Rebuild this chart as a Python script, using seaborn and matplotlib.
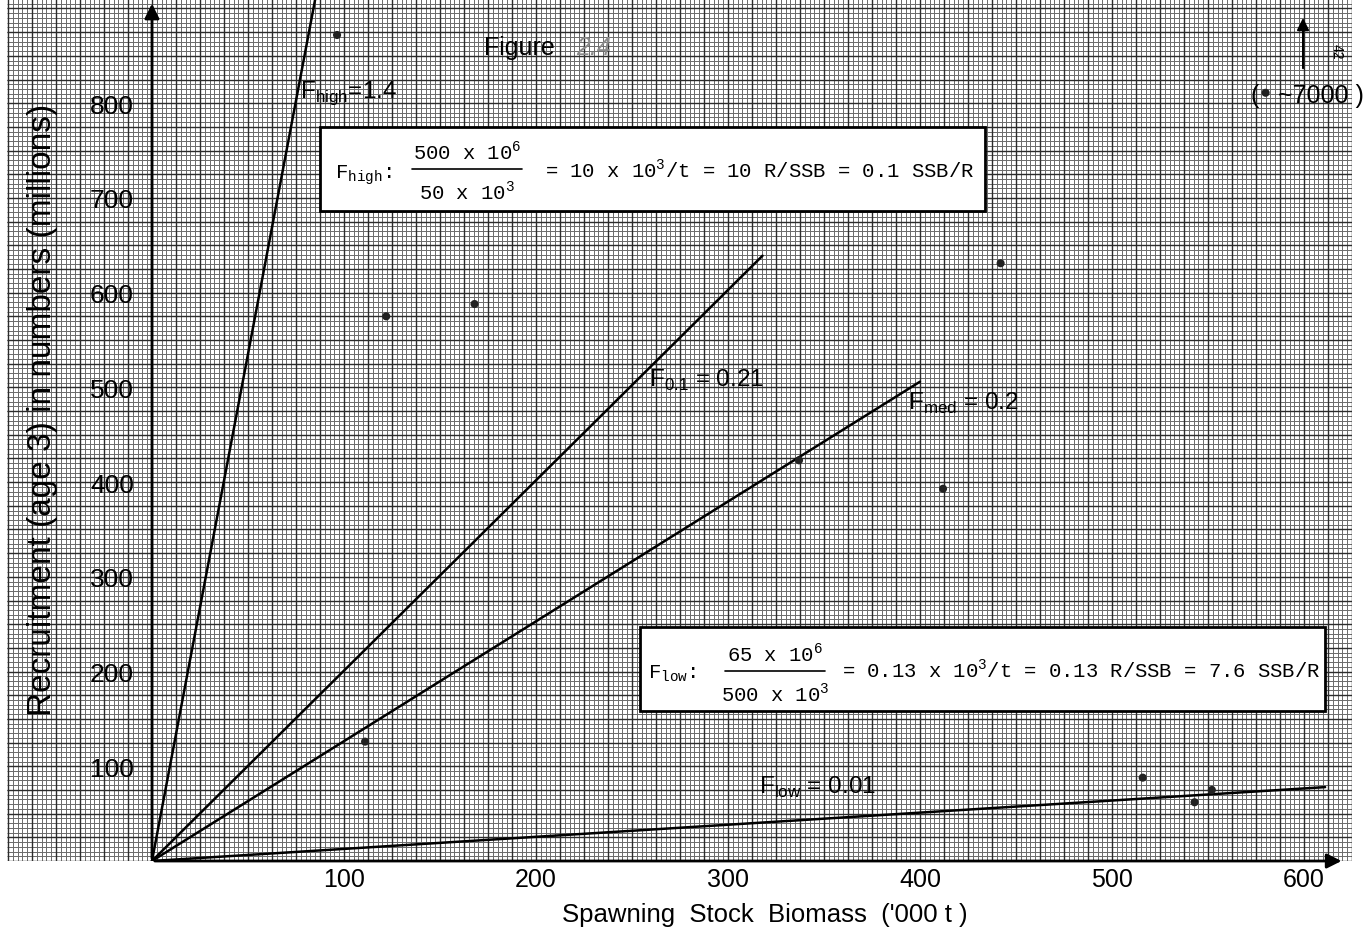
import matplotlib
matplotlib.use("Agg")
import matplotlib.pyplot as plt
import numpy as np
import pandas as pd
import seaborn as sns
from matplotlib.patches import Rectangle

# observed stock / recruitment pairs ('000 t, millions)
ssb = [96.4, 111, 122, 168, 337, 412, 442, 516, 543, 552]
recruits = [872, 126, 575, 588, 423, 393, 631, 88, 62, 75]
# the off-scale year (~7000 million), marked near the top
outlier_ssb = [580]
outlier_rec = [811]

# replacement lines drawn from the origin, end points
line_names = ["Fhigh", "F0.1", "Fmed", "Flow"]
line_end_ssb = [87, 318, 400, 611]
line_end_rec = [931, 639, 506, 78]

x_ticks = [100, 200, 300, 400, 500, 600]
y_ticks = [100, 200, 300, 400, 500, 600, 700, 800]

sns.set_theme(style="white")
plt.rcParams["font.family"] = ["Liberation Sans", "DejaVu Sans"]
plt.rcParams["mathtext.fontset"] = "custom"
plt.rcParams["mathtext.rm"] = "Liberation Sans"
plt.rcParams["mathtext.sf"] = "Liberation Sans"
plt.rcParams["mathtext.tt"] = "Liberation Mono"
for key in ["text.color", "axes.labelcolor", "xtick.color", "ytick.color"]:
    plt.rcParams[key] = "black"

fig = plt.figure(figsize=(13.67, 9.37), dpi=100, facecolor="white")
ax = fig.add_axes([7 / 1367, 75 / 937, 1345 / 1367, 862 / 937])
ax.set_xlim(-75.5, 625)
ax.set_ylim(0, 910)
ax.set_facecolor("white")

# graph paper
ax.vlines(np.arange(-75, 626, 2.5), 0, 910, color="#6a6a6a", lw=0.7, zorder=0)
ax.hlines(np.arange(0, 911, 5), -75.5, 625, color="#6a6a6a", lw=0.7, zorder=0)
ax.vlines(np.arange(-75, 626, 12.5), 0, 910, color="#2c2c2c", lw=1.0, zorder=0)
ax.hlines(np.arange(0, 911, 25), -75.5, 625, color="#2c2c2c", lw=1.0, zorder=0)

# lines from origin
lines = pd.DataFrame({
    "ssb": [0] * len(line_names) + line_end_ssb,
    "rec": [0] * len(line_names) + line_end_rec,
    "line": line_names * 2,
})
sns.lineplot(data=lines, x="ssb", y="rec", hue="line",
             palette=["black"] * len(line_names), estimator=None, sort=False,
             lw=1.8, legend=False, ax=ax, zorder=3)

pts = pd.DataFrame({"ssb": ssb + outlier_ssb, "rec": recruits + outlier_rec})
sns.scatterplot(data=pts, x="ssb", y="rec", color="#222222", s=34,
                edgecolor="none", ax=ax, zorder=4)

# axes with arrow heads
for s in ax.spines.values():
    s.set_visible(False)
ax.spines["left"].set_position(("data", 0))
ax.annotate("", xy=(0, 908), xytext=(0, 0),
            arrowprops=dict(arrowstyle="-|>", lw=2, color="black", mutation_scale=22))
ax.annotate("", xy=(621, 0), xytext=(0, 0),
            arrowprops=dict(arrowstyle="-|>", lw=2, color="black", mutation_scale=22))

ax.set_xticks(x_ticks)
ax.set_yticks(y_ticks)
ax.tick_params(axis="both", direction="in", length=7, width=1.5, color="black")
ax.tick_params(axis="y", labelsize=19, pad=13)
ax.tick_params(axis="x", labelsize=18, pad=4)
ax.set_xlabel("Spawning  Stock  Biomass  ('000 t )", fontsize=18.5)
ax.set_ylabel("Recruitment (age 3) in numbers (millions)", fontsize=24)
ax.xaxis.set_label_coords(0.5636, -0.048)
ax.yaxis.set_label_coords(0.038, 0.524)

# line labels
lab = dict(fontsize=17.5, va="baseline", ha="left", zorder=6)
ax.text(77, 807, r"F$_{\mathsf{high}}$=1.4", **lab)
ax.text(259, 502, r"F$_{\mathsf{0.1}}$ = 0.21", **lab)
ax.text(394, 477, r"F$_{\mathsf{med}}$ = 0.2", **lab)
ax.text(316, 72, r"F$_{\mathsf{low}}$ = 0.01", **lab)

ax.text(173, 852, "Figure", fontsize=18, va="baseline")
ax.text(221, 852, "2.4", fontsize=18, va="baseline", color="#8a8a8a", style="italic")

# boxes with the ratios
mono = dict(family=["Liberation Mono", "DejaVu Sans Mono"], fontsize=14.8, zorder=8)
ax.add_patch(Rectangle((87.5, 686.4), 346.4, 88.7, facecolor="white",
                       edgecolor="black", lw=2, zorder=7))
ax.text(95.3, 722, r"F$_{\mathtt{high}}$:", va="baseline", **mono)
ax.text(164, 741, r"500 x 10$^{\mathtt{6}}$", ha="center", va="baseline", **mono)
ax.plot([135.4, 192.7], [730.7, 730.7], color="black", lw=1.2, zorder=8)
ax.text(164, 699, r"50 x 10$^{\mathtt{3}}$", ha="center", va="baseline", **mono)
ax.text(204.7, 722, r"= 10 x 10$^{\mathtt{3}}$/t = 10 R/SSB = 0.1 SSB/R",
        va="baseline", **mono)

ax.add_patch(Rectangle((254.2, 158.4), 356.8, 88.7, facecolor="white",
                       edgecolor="black", lw=2, zorder=7))
ax.text(258.3, 194.3, r"F$_{\mathtt{low}}$:", va="baseline", **mono)
ax.text(324.5, 211.2, r"65 x 10$^{\mathtt{6}}$", ha="center", va="baseline", **mono)
ax.plot([298.4, 350.5], [200.6, 200.6], color="black", lw=1.2, zorder=8)
ax.text(324.5, 169, r"500 x 10$^{\mathtt{3}}$", ha="center", va="baseline", **mono)
ax.text(359.4, 194.3, r"= 0.13 x 10$^{\mathtt{3}}$/t = 0.13 R/SSB = 7.6 SSB/R",
        va="baseline", **mono)

# off-scale note
ax.annotate("", xy=(599.5, 893), xytext=(599.5, 834),
            arrowprops=dict(arrowstyle="-|>", lw=1.5, color="black", mutation_scale=18))
ax.text(571.9, 801.5, "(", fontsize=18, va="baseline")
ax.text(586.5, 801.5, "~7000 )", fontsize=18, va="baseline")
ax.text(617, 855, "42", fontsize=10, rotation=-90, ha="center", va="center")

fig.savefig("out.png", dpi=100, facecolor="white")
